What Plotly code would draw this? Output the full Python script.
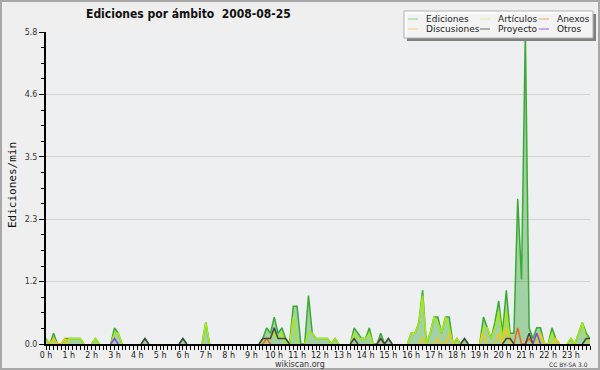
import plotly.graph_objects as go

# ---------------- data (edits per minute, 10-minute bins, 2008-08-25) ----------------
minutes = list(range(0, 1440, 10))

ediciones = [
    0.1, 0, 0.2, 0, 0, 0.1, 0.1, 0.1, 0.1, 0.1, 0, 0,          # 0h-2h
    0, 0.1, 0, 0, 0, 0, 0.3, 0.2, 0, 0, 0, 0,                  # 2h-4h
    0, 0, 0.1, 0, 0, 0, 0, 0, 0, 0, 0, 0,                      # 4h-6h
    0.1, 0, 0, 0, 0, 0, 0.4, 0, 0, 0, 0, 0,                    # 6h-8h
    0, 0, 0, 0, 0, 0, 0, 0, 0, 0.1, 0.3, 0.2,                  # 8h-10h
    0.5, 0.2, 0.3, 0.1, 0, 0.7, 0.7, 0, 0, 0.9, 0.2, 0.1,      # 10h-12h
    0.1, 0.1, 0.1, 0, 0.1, 0, 0, 0, 0, 0.3, 0.2, 0.1,          # 12h-14h
    0.1, 0.3, 0, 0, 0.2, 0, 0.1, 0, 0, 0, 0, 0,                # 14h-16h
    0.2, 0.2, 0.4, 1.0, 0, 0.2, 0.5, 0.5, 0.2, 0.5, 0.5, 0,    # 16h-18h
    0.1, 0, 0.1, 0, 0, 0, 0, 0.5, 0.3, 0.1, 0.4, 0.8,          # 18h-20h
    0.2, 1.0, 0.2, 0.2, 2.7, 1.2, 5.8, 0.3, 0.1, 0.3, 0.3, 0,  # 20h-22h
    0, 0.3, 0.1, 0, 0, 0, 0.1, 0, 0.2, 0.4, 0.2, 0.1,          # 22h-24h
]
articulos = [
    0.1, 0, 0.1, 0, 0, 0, 0.1, 0.1, 0.1, 0.1, 0, 0,
    0, 0.1, 0, 0, 0, 0, 0.2, 0.2, 0, 0, 0, 0,
    0, 0, 0, 0, 0, 0, 0, 0, 0, 0, 0, 0,
    0, 0, 0, 0, 0, 0, 0.4, 0, 0, 0, 0, 0,
    0, 0, 0, 0, 0, 0, 0, 0, 0, 0, 0.1, 0.1,
    0.2, 0.1, 0.2, 0, 0, 0.5, 0, 0, 0, 0.2, 0.2, 0.1,
    0.1, 0.1, 0.1, 0, 0.1, 0, 0, 0, 0, 0.2, 0.1, 0.1,
    0.1, 0.2, 0, 0, 0, 0, 0, 0, 0, 0, 0, 0,
    0.2, 0.2, 0.4, 0.9, 0, 0.2, 0.5, 0.4, 0.2, 0.5, 0.3, 0,
    0.1, 0, 0, 0, 0, 0, 0, 0.3, 0.3, 0.1, 0.3, 0.6,
    0.1, 0.6, 0.1, 0, 0, 0, 0, 0, 0, 0.1, 0.1, 0,
    0, 0.2, 0, 0, 0, 0, 0.1, 0, 0.2, 0.4, 0.1, 0,
]
anexos = [0] * 144
for i, v in [(58, 0.1), (88, 0.1), (124, 0.3), (127, 0.1)]:
    anexos[i] = v
discusiones = [0] * 144
for i, v in [(2, 0.1), (5, 0.1), (99, 0.1), (103, 0.1), (106, 0.2), (115, 0.2),
             (119, 0.2), (121, 0.3), (130, 0.2), (134, 0.1)]:
    discusiones[i] = v
proyecto = [0] * 144
for i, v in [(26, 0.1), (36, 0.1), (57, 0.1), (58, 0.1), (59, 0.1), (60, 0.3), (61, 0.1),
             (62, 0.1), (63, 0.1), (81, 0.1), (88, 0.1), (90, 0.1), (110, 0.1), (121, 0.1),
             (122, 0.1), (127, 0.2), (142, 0.1), (143, 0.1)]:
    proyecto[i] = v
otros = [0] * 144
for i, v in [(18, 0.1), (129, 0.2)]:
    otros[i] = v

hour_vals = list(range(24))
hour_labels = [f"{h} h" for h in hour_vals]
y_tick_vals = [0, 1.16, 2.32, 3.48, 4.64, 5.8]
y_tick_labels = ["0.0", "1.2", "2.3", "3.5", "4.6", "5.8"]

# ---------------- layout helpers ----------------
W, H = 600, 370
L, R, T, B = 46, 10, 32, 26
PW, PH = W - L - R, H - T - B


def px(x):
    return (x - L) / PW


def py(y):
    return (H - B - y) / PH


def hide_flat_zero(vals):
    """Keep zeros only where they bound a non-zero stretch (so the line does not
    run along the x axis)."""
    out = []
    n = len(vals)
    for i, v in enumerate(vals):
        prev_v = vals[i - 1] if i > 0 else 0
        next_v = vals[i + 1] if i < n - 1 else 0
        out.append(None if (v == 0 and prev_v == 0 and next_v == 0) else v)
    return out


hours = [m / 60 for m in minutes]
FONT = "DejaVu Sans"

series = [
    ("Ediciones", ediciones, "#3aaa35"),
    ("Artículos", articulos, "#a8ea10"),
    ("Discusiones", discusiones, "#f5c518"),
    ("Anexos", anexos, "#f06418"),
    ("Proyecto", proyecto, "#444444"),
    ("Otros", otros, "#8a3ff0"),
]

fig = go.Figure()
for name, vals, col in series:
    kw = {}
    if name == "Ediciones":
        kw = dict(fill="tozeroy", fillcolor="rgba(40,160,40,0.38)")
    fig.add_trace(go.Scatter(x=hours, y=hide_flat_zero(vals), mode="lines", name=name,
                             line=dict(color=col, width=1.5), showlegend=False,
                             connectgaps=False, hoverinfo="skip", **kw))

shapes = []
annotations = []

# image frame
shapes.append(dict(type="rect", xref="paper", yref="paper", x0=px(1), x1=px(599), y0=py(1), y1=py(369),
                   line=dict(color="#a8a8a8", width=2), fillcolor="rgba(0,0,0,0)", layer="above"))

# legend box with shadow
shapes.append(dict(type="rect", xref="paper", yref="paper", x0=px(407), x1=px(596), y0=py(14), y1=py(41),
                   line=dict(width=0), fillcolor="#808080", layer="above"))
shapes.append(dict(type="rect", xref="paper", yref="paper", x0=px(404), x1=px(593), y0=py(11), y1=py(38),
                   line=dict(color="#b0b0b0", width=1), fillcolor="rgba(255,255,255,0.9)", layer="above"))
legend_items = [
    ("Ediciones", "#8fd08c", 408, 424, 19),
    ("Artículos", "#d6f29a", 480, 496, 19),
    ("Anexos", "#f2a070", 539, 555, 19),
    ("Discusiones", "#f5d670", 408, 424, 29),
    ("Proyecto", "#666666", 480, 496, 29),
    ("Otros", "#9a5ff0", 539, 555, 29),
]
for name, col, lx, tx, ly in legend_items:
    shapes.append(dict(type="line", xref="paper", yref="paper", x0=px(lx), x1=px(lx + 10),
                       y0=py(ly), y1=py(ly), line=dict(color=col, width=1), layer="above"))
    annotations.append(dict(text=name, xref="paper", yref="paper", x=px(tx), y=py(ly),
                            xanchor="left", yanchor="middle", showarrow=False,
                            font=dict(family=FONT, size=9, color="#222222")))

# title and texts
annotations.append(dict(text="<b>Ediciones por ámbito  2008-08-25</b>", xref="paper", yref="paper",
                        x=px(188), y=py(14), xanchor="center", yanchor="middle", showarrow=False,
                        font=dict(family="DejaVu Sans Condensed, DejaVu Sans", size=12, color="#111111")))
annotations.append(dict(text="Ediciones/min", xref="paper", yref="paper", x=px(12), y=py(185),
                        xanchor="center", yanchor="middle", textangle=-90, showarrow=False,
                        font=dict(family="DejaVu Sans Mono", size=11, color="#111111")))
annotations.append(dict(text="wikiscan.org", xref="paper", yref="paper", x=px(300), y=py(364.5),
                        xanchor="center", yanchor="middle", showarrow=False,
                        font=dict(family=FONT, size=8, color="#333333")))
annotations.append(dict(text="CC BY-SA 3.0", xref="paper", yref="paper", x=px(590), y=py(364),
                        xanchor="right", yanchor="middle", showarrow=False,
                        font=dict(family=FONT, size=6, color="#333333")))

fig.update_layout(
    width=W, height=H,
    margin=dict(l=L, r=R, t=T, b=B, pad=0),
    paper_bgcolor="#efefef",
    plot_bgcolor="#eeeff0",
    showlegend=False,
    shapes=shapes,
    annotations=annotations,
    xaxis=dict(range=[0, 143 / 6], tickmode="array", tickvals=hour_vals, ticktext=hour_labels,
               ticks="outside", ticklen=4, tickcolor="#000", tickwidth=1, ticklabelstandoff=-2,
               showline=True, linecolor="#000", linewidth=2, showgrid=False, zeroline=False,
               tickfont=dict(family=FONT, size=8, color="#222"),
               minor=dict(dtick=1 / 6, tick0=0, ticks="outside", ticklen=4, tickcolor="#000", showgrid=False),
               fixedrange=True),
    yaxis=dict(range=[0, 5.8], tickmode="array", tickvals=y_tick_vals, ticktext=y_tick_labels,
               ticks="outside", ticklen=5, tickcolor="#000", tickwidth=1,
               showline=True, linecolor="#000", linewidth=2, showgrid=True, gridcolor="#d2d2d2",
               gridwidth=1, zeroline=False,
               tickfont=dict(family=FONT, size=8, color="#333"),
               minor=dict(dtick=0.29, tick0=0, ticks="outside", ticklen=3, tickcolor="#000", showgrid=False),
               fixedrange=True),
)

fig.write_html("out.html", config={"displayModeBar": False},
               post_script="document.documentElement.style.overflow='hidden';"
                           "document.body.style.margin='0';document.body.style.overflow='hidden';")
